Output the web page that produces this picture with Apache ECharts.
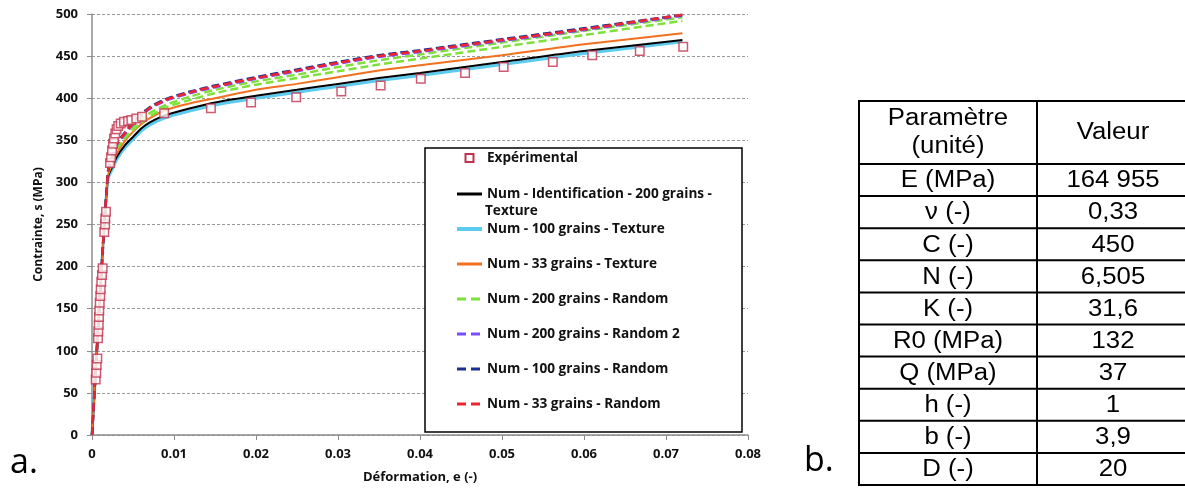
<!DOCTYPE html>
<html><head><meta charset="utf-8">
<script src="https://cdn.jsdelivr.net/npm/echarts@6/dist/echarts.min.js"></script>
<style>html,body{margin:0;padding:0;background:#fff}#c{width:1185px;height:490px}</style>
</head><body><div id="c"></div>
<script>
// ---- data ----
const strainNum = [0, 0.0005, 0.001, 0.0015, 0.0018, 0.002, 0.0025, 0.003, 0.004, 0.005, 0.006, 0.007, 0.009, 0.012, 0.015, 0.02, 0.025, 0.03, 0.035, 0.04, 0.05, 0.06, 0.072];
const stressIdent200Tex = [0, 85, 170, 250, 290, 308, 319, 330, 344, 354, 364, 371, 380, 388, 395, 403, 410, 417, 424, 430, 443, 456, 469];
const stress100Tex      = [0, 85, 170, 250, 290, 306, 316, 327, 341, 351, 361, 368, 377, 385, 392, 400, 407, 414, 421, 427, 440, 453, 467];
const stress33Tex       = [0, 85, 170, 250, 291, 310, 322, 334, 349, 360, 369, 376, 386, 394, 400, 410, 417, 425, 433, 439, 451, 464, 477];
const stress200Rand     = [0, 85, 170, 250, 292, 314, 328, 342, 355, 366, 375, 382, 392, 402, 410, 420, 428, 437, 445, 452, 466, 480, 496];
const stress200RandB    = [0, 85, 170, 250, 292, 313, 326, 339, 352, 362, 371, 378, 389, 398, 406, 416, 424, 432, 440, 447, 461, 475, 492];
const stress200Rand2    = [0, 85, 170, 250, 293, 315, 330, 344, 357, 369, 379, 387, 397, 406, 413, 423, 432, 441, 449, 455, 468, 481, 498];
const stress100Rand     = [0, 85, 170, 250, 293, 316, 332, 346, 359, 371, 381, 389, 399, 408, 415, 425, 434, 443, 451, 457, 470, 483, 499];
const stress33Rand      = [0, 85, 170, 250, 293, 316, 331, 345, 358, 370, 380, 388, 398, 407, 414, 424, 433, 442, 450, 456, 469, 482, 499];

const expStrain = [0.00045, 0.00052, 0.00057, 0.00065, 0.00073, 0.00077, 0.00082, 0.00085, 0.00089, 0.00094, 0.00101, 0.00106, 0.00113, 0.00122, 0.0013,
  0.0015, 0.0016, 0.00162, 0.00171,
  0.0022, 0.00232, 0.00244, 0.00256, 0.00268, 0.00284, 0.003, 0.0032, 0.0035, 0.0039, 0.0044, 0.0048, 0.0054, 0.0061,
  0.0088, 0.0145, 0.0194, 0.0249, 0.0304, 0.0352, 0.0401, 0.0455, 0.0502, 0.0562, 0.061, 0.0668, 0.0721];
const expStress = [66, 74, 83, 91, 115, 123, 131, 140, 148, 157, 165, 173, 182, 190, 198,
  241, 250, 257, 265,
  323, 330, 338, 346, 352, 358, 363, 367, 370, 372, 373, 374, 376, 378,
  382, 388, 395, 401, 408, 415, 423, 430, 437, 443, 451, 456, 461];

const paramHeader = ['Paramètre', '(unité)'];
const valueHeader = 'Valeur';
const paramNames = ['E (MPa)', 'ν (-)', 'C (-)', 'N (-)', 'K (-)', 'R0 (MPa)', 'Q (MPa)', 'h (-)', 'b (-)', 'D (-)'];
const paramValues = ['164 955', '0,33', '450', '6,505', '31,6', '132', '37', '1', '3,9', '20'];

const NAME_EXP = 'Expérimental';
const NAME_ID = 'Num - Identification - 200 grains - Texture';
const NAME_100T = 'Num - 100 grains - Texture';
const NAME_33T = 'Num - 33 grains - Texture';
const NAME_200R = 'Num - 200 grains - Random';
const NAME_200R2 = 'Num - 200 grains - Random 2';
const NAME_100R = 'Num - 100 grains - Random';
const NAME_33R = 'Num - 33 grains - Random';

// ---- build ----
const zip = (xs, ys) => xs.map((x, i) => [x, ys[i]]);
const FONT = 'Open Sans';
function lineSeries(name, ys, color, width, dashed) {
  return {
    name, type: 'line', data: zip(strainNum, ys), symbol: 'none', smooth: 0.3,
    lineStyle: { color, width, type: dashed ? [8, 4] : 'solid' },
    itemStyle: { color }, emphasis: { disabled: true }, silent: true
  };
}

const LFS = 13.6;
const graphics = [];
// legend box
graphics.push({ type: 'rect', shape: { x: 425, y: 148, width: 317, height: 284 }, style: { fill: '#fff', stroke: '#000', lineWidth: 1.5 }, z: 3 });
graphics.push({ type: 'text', x: 485, y: 211.5, z: 6, style: { text: 'Texture', fontFamily: FONT, fontWeight: 'bold', fontSize: LFS, fill: '#111', align: 'left', verticalAlign: 'middle' } });
// panel labels
graphics.push({ type: 'text', x: 10, y: 463, style: { text: 'a.', fontFamily: 'Open Sans', fontSize: 34, fill: '#000', align: 'left', verticalAlign: 'middle' } });
graphics.push({ type: 'text', x: 804, y: 461, style: { text: 'b.', fontFamily: 'Open Sans', fontSize: 34, fill: '#000', align: 'left', verticalAlign: 'middle' } });

// table
const tL = 859, tM = 1037, tR = 1190, tTop = 101, tHead = 164, tBot = 485;
const rowH = (tBot - tHead) / paramNames.length;
const tFont = { fontFamily: 'Liberation Sans', fontSize: 23, fill: '#000', align: 'center', verticalAlign: 'middle' };
const sx = 1.12;
graphics.push({ type: 'rect', shape: { x: tL, y: tTop, width: tR - tL, height: tBot - tTop }, style: { fill: 'none', stroke: '#000', lineWidth: 2 } });
graphics.push({ type: 'line', shape: { x1: tM, y1: tTop, x2: tM, y2: tBot }, style: { stroke: '#000', lineWidth: 2 } });
graphics.push({ type: 'line', shape: { x1: tL, y1: tHead, x2: tR, y2: tHead }, style: { stroke: '#000', lineWidth: 2 } });
for (let i = 1; i < paramNames.length; i++) {
  const y = tHead + i * rowH;
  graphics.push({ type: 'line', shape: { x1: tL, y1: y, x2: tR, y2: y }, style: { stroke: '#000', lineWidth: 2 } });
}
const c1 = (tL + tM) / 2, c2 = (tM + 1189) / 2;
graphics.push({ type: 'text', x: c1, y: 119, scaleX: sx, style: Object.assign({ text: paramHeader[0] }, tFont) });
graphics.push({ type: 'text', x: c1, y: 147, scaleX: sx, style: Object.assign({ text: paramHeader[1] }, tFont) });
graphics.push({ type: 'text', x: c2, y: 133, scaleX: sx, style: Object.assign({ text: valueHeader }, tFont) });
paramNames.forEach((p, i) => {
  const y = tHead + i * rowH + rowH / 2 + 1;
  graphics.push({ type: 'text', x: c1, y, scaleX: sx, style: Object.assign({ text: p }, tFont) });
  graphics.push({ type: 'text', x: c2, y, scaleX: sx, style: Object.assign({ text: paramValues[i] }, tFont) });
});

const axisLabelStyle = { fontFamily: FONT, fontWeight: 'bold', fontSize: 13, color: '#111' };
const dashLeg = { type: [9, 5], width: 3 };
const option = {
  animation: false,
  backgroundColor: '#fff',
  grid: { left: 92, right: 437, top: 14, bottom: 55, containLabel: false, outerBoundsMode: 'none' },
  xAxis: {
    type: 'value', min: 0, max: 0.08, interval: 0.01,
    name: 'Déformation, e (-)', nameLocation: 'middle', nameGap: 36,
    nameTextStyle: { fontFamily: FONT, fontWeight: 'bold', fontSize: 13, color: '#111' },
    axisLine: { show: true, lineStyle: { color: '#8c8c8c', width: 1.5 } },
    axisTick: { show: true, length: 5, inside: false, lineStyle: { color: '#8c8c8c', width: 1 } },
    axisLabel: Object.assign({ margin: 13, formatter: v => v === 0 ? '0' : v.toFixed(2) }, axisLabelStyle),
    splitLine: { show: false }
  },
  yAxis: {
    type: 'value', min: 0, max: 500, interval: 50,
    name: 'Contrainte, s (MPa)', nameLocation: 'middle', nameGap: 40,
    nameTextStyle: { fontFamily: FONT, fontWeight: 'bold', fontSize: 12, color: '#111' },
    axisLine: { show: true, lineStyle: { color: '#8c8c8c', width: 1.5 } },
    axisTick: { show: true, length: 5, inside: false, lineStyle: { color: '#8c8c8c', width: 1 } },
    axisLabel: Object.assign({ margin: 14 }, axisLabelStyle),
    splitLine: { show: true, lineStyle: { color: '#9a9a9a', width: 1, type: [3, 2] } }
  },
  legend: {
    orient: 'vertical', left: 455, top: 150, padding: 0,
    itemWidth: 25, itemHeight: 14, itemGap: 21.0, selectedMode: false, z: 5,
    itemStyle: { opacity: 0 },
    data: [
      { name: NAME_EXP, icon: 'path://M0,0M25,14M8.5,3H16.5V11H8.5Z', itemStyle: { opacity: 1 } },
      { name: NAME_ID, lineStyle: { width: 3 } },
      { name: NAME_100T, lineStyle: { width: 4 } },
      { name: NAME_33T, lineStyle: { width: 3 } },
      { name: NAME_200R, lineStyle: dashLeg },
      { name: NAME_200R2, lineStyle: dashLeg },
      { name: NAME_100R, lineStyle: dashLeg },
      { name: NAME_33R, lineStyle: dashLeg }
    ],
    formatter: n => n === NAME_ID ? 'Num - Identification - 200 grains -' : n,
    textStyle: { fontFamily: FONT, fontWeight: 'bold', fontSize: LFS, color: '#111' }
  },
  graphic: graphics,
  series: [
    lineSeries(NAME_100T, stress100Tex, '#5ccbf0', 3, false),
    lineSeries(NAME_ID, stressIdent200Tex, '#000000', 2, false),
    lineSeries(NAME_33T, stress33Tex, '#f2701f', 2, false),
    lineSeries('Num - 200 grains - Random (b)', stress200RandB, '#7ee03a', 2.5, true),
    lineSeries(NAME_200R, stress200Rand, '#7ee03a', 2.5, true),
    lineSeries(NAME_200R2, stress200Rand2, '#7a4cff', 2.5, true),
    lineSeries(NAME_100R, stress100Rand, '#1d2f8e', 2.5, true),
    lineSeries(NAME_33R, stress33Rand, '#ee2530', 2.5, true),
    {
      name: NAME_EXP, type: 'scatter', data: zip(expStrain, expStress),
      symbol: 'rect', symbolSize: 8.5, z: 4,
      itemStyle: { color: '#ffffff', borderColor: '#c3324c', borderWidth: 1.5 },
      emphasis: { disabled: true }, silent: true
    }
  ]
};
const chart = echarts.init(document.getElementById('c'), null, { renderer: 'canvas' });
chart.setOption(option);
</script></body></html>
